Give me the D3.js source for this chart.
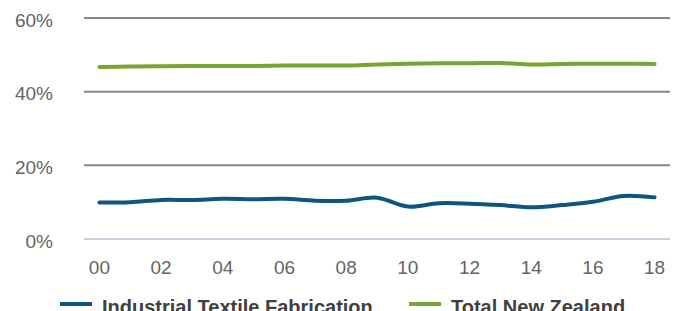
<!DOCTYPE html>
<html>
<head>
<meta charset="utf-8">
<script src="https://cdn.jsdelivr.net/npm/d3@7"></script>
<style>
  html, body { margin: 0; padding: 0; background: #fff; overflow: hidden; }
  svg { display: block; font-family: "Liberation Sans", Arial, sans-serif; }
</style>
</head>
<body>
<svg id="chart" width="678" height="311"></svg>
<script>
'use strict';

const years = ['00', '01', '02', '03', '04', '05', '06', '07', '08', '09',
    '10', '11', '12', '13', '14', '15', '16', '17', '18'];
const yearLabels = ['00', '02', '04', '06', '08', '10', '12', '14', '16', '18'];
const textile = [9.9, 10.0, 10.6, 10.6, 10.9, 10.8, 10.9, 10.4, 10.4, 11.2,
    8.8, 9.7, 9.6, 9.2, 8.6, 9.2, 10.1, 11.7, 11.3];
const totalNZ = [46.7, 46.8, 46.9, 47.0, 47.0, 47.0, 47.1, 47.1, 47.1, 47.4,
    47.6, 47.7, 47.7, 47.8, 47.4, 47.5, 47.6, 47.6, 47.5];
const yTicks = [0, 20, 40, 60];
const seriesNames = ['Industrial Textile Fabrication', 'Total New Zealand'];
const colors = ['#0f5580', '#78a52f'];

const svg = d3.select('#chart');

const x = d3.scalePoint()
    .domain(years)
    .range([84, 670])
    .padding(0.5);

const y = d3.scaleLinear()
    .domain([0, 60])
    .range([239, 18]);

// gridlines
svg.append('g')
    .selectAll('line')
    .data(yTicks)
    .enter()
    .append('line')
    .attr('x1', 84)
    .attr('x2', 670)
    .attr('y1', (d) => y(d))
    .attr('y2', (d) => y(d))
    .attr('stroke', (d) => d === 0 ? '#c9d0dd' : '#868686')
    .attr('stroke-width', 2);

// y labels
svg.append('g')
    .selectAll('text')
    .data(yTicks)
    .enter()
    .append('text')
    .attr('x', 53)
    .attr('y', (d) => y(d) + 2)
    .attr('dy', '0.35em')
    .attr('text-anchor', 'end')
    .attr('fill', '#646464')
    .style('font-size', '19px')
    .text((d) => d + '%');

// x labels
svg.append('g')
    .selectAll('text')
    .data(yearLabels)
    .enter()
    .append('text')
    .attr('x', (d) => x(d))
    .attr('y', 274)
    .attr('text-anchor', 'middle')
    .attr('fill', '#646464')
    .style('font-size', '19px')
    .text((d) => d);

const line = d3.line()
    .x((d, i) => x(years[i]))
    .y((d) => y(d))
    .curve(d3.curveCatmullRom.alpha(0.5));

[textile, totalNZ].forEach((values, i) => {
    svg.append('path')
        .datum(values)
        .attr('d', line)
        .attr('fill', 'none')
        .attr('stroke', colors[i])
        .attr('stroke-width', 4)
        .attr('stroke-linecap', 'round');
});

// legend (cut off by the bottom edge, as in the original)
const legendX = [60, 409];
const legend = svg.append('g')
    .selectAll('g')
    .data(seriesNames)
    .enter()
    .append('g');

legend.append('rect')
    .attr('x', (d, i) => legendX[i])
    .attr('y', 302)
    .attr('width', 32)
    .attr('height', 4)
    .attr('fill', (d, i) => colors[i]);

legend.append('text')
    .attr('x', (d, i) => legendX[i] + 42)
    .attr('y', 314)
    .attr('fill', '#404040')
    .style('font-size', '20px')
    .style('font-weight', 'bold')
    .text((d) => d);
</script>
</body>
</html>
